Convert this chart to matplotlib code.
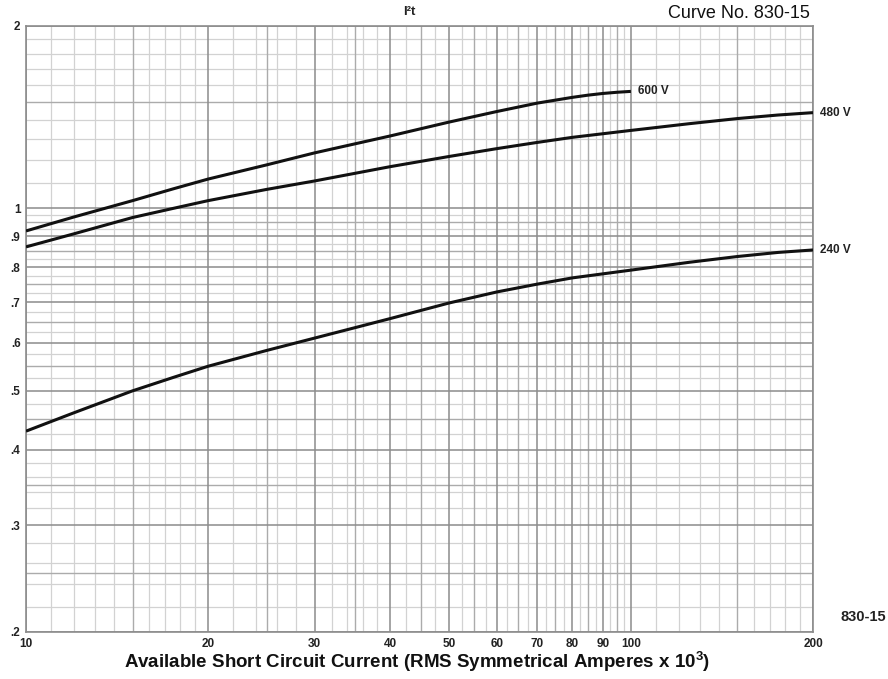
import numpy as np
import matplotlib
matplotlib.use("Agg")
import matplotlib.pyplot as plt

plt.rcParams['font.family'] = ['Liberation Sans', 'DejaVu Sans']
plt.rcParams['mathtext.default'] = 'regular'

# ---- data ----
x600 = [10, 12, 15, 17.5, 20, 25, 30, 40, 50, 60, 70, 80, 85, 90, 95, 100]
y600 = [0.918, 0.968, 1.03, 1.077, 1.118, 1.18, 1.235, 1.317, 1.388, 1.445, 1.492, 1.525, 1.538, 1.548, 1.555, 1.56]

x480 = [10, 12, 15, 17.5, 20, 25, 30, 40, 50, 60, 70, 80, 100, 125, 150, 175, 200]
y480 = [0.864, 0.908, 0.966, 1.0, 1.03, 1.075, 1.11, 1.172, 1.218, 1.255, 1.285, 1.31, 1.345, 1.38, 1.407, 1.426, 1.439]

x240 = [10, 12, 15, 17.5, 20, 25, 30, 40, 50, 60, 70, 80, 100, 125, 150, 175, 200]
y240 = [0.429, 0.46, 0.5, 0.526, 0.549, 0.583, 0.611, 0.658, 0.698, 0.728, 0.75, 0.768, 0.791, 0.815, 0.833, 0.846, 0.854]

series_labels = ["600 V", "480 V", "240 V"]

xtick_vals = [10, 20, 30, 40, 50, 60, 70, 80, 90, 100, 200]
xtick_labels = ["10", "20", "30", "40", "50", "60", "70", "80", "90", "100", "200"]
ytick_vals = [0.2, 0.3, 0.4, 0.5, 0.6, 0.7, 0.8, 0.9, 1, 2]
ytick_labels = [".2", ".3", ".4", ".5", ".6", ".7", ".8", ".9", "1", "2"]

title_text = "I²t"
corner_text = "Curve No. 830-15"
side_text = "830-15"
xlabel_text = "Available Short Circuit Current (RMS Symmetrical Amperes x 10$^{3}$)"

# ---- figure ----
W, H = 888, 679
fig = plt.figure(figsize=(W / 100, H / 100), dpi=100)
l, r, t, b = 26, 813, 26, 632
ax = fig.add_axes([l / W, 1 - b / H, (r - l) / W, (b - t) / H])
ax.set_xscale('log')
ax.set_yscale('log')
ax.set_xlim(10, 200)
ax.set_ylim(0.2, 2)

major_c = '#8c8c8c'
med_c = '#ababab'
minor_c = '#d2d2d2'

# grid positions (log-paper pattern)
xminor = list(np.arange(11, 20, 1)) + [22, 24, 26, 28, 32, 34, 36, 38] + \
    [v for v in np.arange(40, 100, 2.5) if v % 5 != 0] + list(np.arange(110, 200, 10))
xmed = [15, 25, 35, 45, 55, 65, 75, 85, 95, 150]
yminor = [0.22, 0.24, 0.26, 0.28, 0.32, 0.34, 0.36, 0.38] + \
    [v for v in np.round(np.arange(0.4, 1.0, 0.025), 3) if round(v * 200) % 10 != 0] + \
    list(np.round(np.arange(1.1, 2.0, 0.1), 2))
ymed = [0.25, 0.35] + list(np.round(np.arange(0.45, 1.0, 0.1), 2)) + [1.5]

for v in xminor:
    if v in xmed:
        continue
    ax.axvline(v, color=minor_c, lw=0.9, zorder=1)
for v in yminor:
    if any(abs(v - m) < 1e-6 for m in ymed):
        continue
    ax.axhline(v, color=minor_c, lw=0.9, zorder=1)
for v in xmed:
    ax.axvline(v, color=med_c, lw=1.0, zorder=1.5)
for v in ymed:
    ax.axhline(v, color=med_c, lw=1.0, zorder=1.5)
for v in xtick_vals:
    ax.axvline(v, color=major_c, lw=1.1, zorder=2)
for v in ytick_vals:
    ax.axhline(v, color=major_c, lw=1.1, zorder=2)

for s in ax.spines.values():
    s.set_color(major_c)
    s.set_linewidth(1.2)

ax.set_xticks(xtick_vals)
ax.set_xticklabels(xtick_labels)
ax.set_yticks(ytick_vals)
ax.set_yticklabels(ytick_labels)
ax.minorticks_off()
ax.tick_params(length=0, labelsize=8.5, pad=4)
for lab in ax.get_xticklabels() + ax.get_yticklabels():
    lab.set_fontweight('bold')
    lab.set_color('#222222')

# curves
for xs, ys, lab in [(x600, y600, series_labels[0]), (x480, y480, series_labels[1]), (x240, y240, series_labels[2])]:
    ax.plot(xs, ys, color='#111111', lw=2.2, zorder=5, solid_capstyle='butt',
            solid_joinstyle='round')
    ax.annotate(lab, xy=(xs[-1], ys[-1]), xytext=(5, 0), textcoords='offset points',
                ha='left', va='center', fontsize=8.5, fontweight='bold', color='#222222',
                annotation_clip=False)

fig.text(417 / W, 1 - 662 / H, xlabel_text, ha='center', va='center', fontsize=13.5,
         fontweight='bold', color='#111111')

fig.text(409 / W, 1 - 12 / H, title_text, ha='center', va='center', fontsize=9.5,
         fontweight='bold', color='#222222')
fig.text(810 / W, 1 - 13 / H, corner_text, ha='right', va='center', fontsize=13, color='#111111')
fig.text(886 / W, 1 - 617 / H, side_text, ha='right', va='center', fontsize=10.5,
         fontweight='bold', color='#222222')

fig.savefig('out.png', dpi=100)
